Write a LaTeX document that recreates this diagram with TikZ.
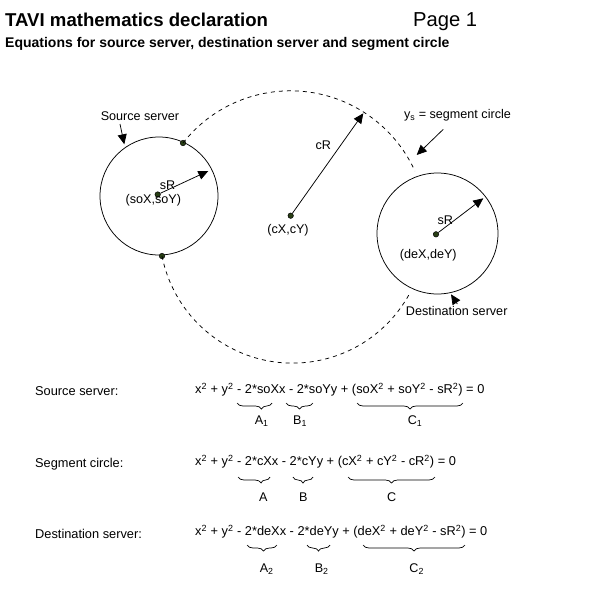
\documentclass[tikz,border=0pt]{standalone}
\usepackage{fontspec}
\setmainfont{Liberation Sans}
\usetikzlibrary{arrows.meta,decorations.pathreplacing}
\definecolor{dotgreen}{RGB}{40,62,20}
\begin{document}
\begin{tikzpicture}[x=1pt,y=-1pt,
  lbl/.style={font=\fontsize{12.6}{14}\selectfont, inner sep=0pt},
  eqn/.style={font=\fontsize{12.8}{14}\selectfont, inner sep=0pt, anchor=west},
  srv/.style={circle, draw, line width=0.75pt, inner sep=0pt},
  dotnode/.style={circle, draw, fill=dotgreen, line width=0.5pt, minimum size=5.5pt, inner sep=0pt},
  arr/.style={line width=0.75pt, -{Triangle[length=10pt,width=9pt]}},
  seg/.style={line width=0.75pt, dash pattern=on 4pt off 4pt},
  brc/.style={line width=0.7pt, decorate, decoration={brace, mirror, amplitude=6pt}},
]
\useasboundingbox[fill=white] (0,0) rectangle (594,598);

% titles
\node[anchor=base west, inner sep=0pt, font=\fontsize{18.6}{20}\selectfont\bfseries] (title) at (5,26) {TAVI mathematics declaration};
\node[anchor=base west, inner sep=0pt, font=\fontsize{20.2}{22}\selectfont] (page) at (413,26) {Page 1};
\node[anchor=base west, inner sep=0pt, font=\fontsize{14}{15}\selectfont\bfseries] (sub) at (5,47) {Equations for source server, destination server and segment circle};

% servers
\node[srv, minimum size=118pt] (src) at (159,196) {};
\node[srv, minimum size=121pt] (dst) at (437.5,233.5) {};

% segment circle (dashed arcs)
\node[dotnode] (sd1) at (183,143) {};
\node[dotnode] (sd2) at (162,256) {};
\draw[seg] (sd1.center) arc[start angle=141.8, end angle=24.4, radius=136.7pt];
\draw[seg] (sd2.center) arc[start angle=191.3, end angle=331.7, radius=133.2pt];

% centres
\node[dotnode] (soc) at (157.7,194.5) {};
\node[dotnode] (cc) at (290.7,215.7) {};
\node[dotnode] (dc) at (436,234.3) {};

\coordinate (sre) at (208.3,171);
\coordinate (cre) at (363.3,113.3);
\coordinate (dre) at (483.3,198.3);
\draw[arr] (soc) -- (sre);
\draw[arr] (cc) -- (cre);
\draw[arr] (dc) -- (dre);

\node[lbl] (srl) at (167.5,185) {sR};
\node[lbl] (sol) at (153.3,200.7) {(soX,soY)};
\node[lbl] (crl) at (323.3,145) {cR};
\node[lbl] (ccl) at (288,230) {(cX,cY)};
\node[lbl] (drl) at (445.3,220.7) {sR};
\node[lbl] (dcl) at (428.3,255.7) {(deX,deY)};

% callouts
\node[lbl] (srcl) at (140,115.7) {Source server};
\coordinate (srca) at (124.3,144.3);
\coordinate (srcs) at (120,124);
\draw[arr] (srcs) -- (srca);
\node[lbl] (segl) at (457.5,115) {y\textsubscript{s} = segment circle};
\coordinate (sega) at (416.7,155);
\coordinate (segs) at (443.3,129.3);
\draw[arr] (segs) -- (sega);
\node[lbl] (dstl) at (456.7,310.7) {Destination server};
\coordinate (dsta) at (451,294.3);
\coordinate (dsts) at (457.3,304);
\draw[arr] (dsts) -- (dsta);

% equations
\node[eqn] (l1) at (35,391) {Source server:};
\node[eqn] (l2) at (35,464) {Segment circle:};
\node[eqn] (l3) at (35,534) {Destination server:};

\node[eqn] (e1) at (195,390) {x\textsuperscript{2} + y\textsuperscript{2} - 2*soXx - 2*soYy + (soX\textsuperscript{2} + soY\textsuperscript{2} - sR\textsuperscript{2}) = 0};
\node[eqn] (e2) at (195,462) {x\textsuperscript{2} + y\textsuperscript{2} - 2*cXx - 2*cYy + (cX\textsuperscript{2} + cY\textsuperscript{2} - cR\textsuperscript{2}) = 0};
\node[eqn] (e3) at (195,532) {x\textsuperscript{2} + y\textsuperscript{2} - 2*deXx - 2*deYy + (deX\textsuperscript{2} + deY\textsuperscript{2} - sR\textsuperscript{2}) = 0};

% braces
\draw[brc, decoration={aspect=0.7}] (237,403) -- (272,403);
\draw[brc] (286,403) -- (313,403);
\draw[brc] (357,403) -- (463,403);
\node[lbl] (a1) at (261.7,421) {A\textsubscript{1}};
\node[lbl] (b1) at (300,421) {B\textsubscript{1}};
\node[lbl] (c1) at (415,421) {C\textsubscript{1}};

\draw[brc, decoration={aspect=0.72}] (238,477) -- (270,477);
\draw[brc] (293,477) -- (313,477);
\draw[brc] (348,477) -- (435,477);
\node[lbl] (a2) at (263.3,497) {A};
\node[lbl] (b2) at (303.3,497) {B};
\node[lbl] (c2) at (391.7,497) {C};

\draw[brc, decoration={aspect=0.55}] (247,545) -- (277,545);
\draw[brc] (307,545) -- (330,545);
\draw[brc] (363,545) -- (465,545);
\node[lbl] (a3) at (266.7,569) {A\textsubscript{2}};
\node[lbl] (b3) at (321.7,569) {B\textsubscript{2}};
\node[lbl] (c3) at (416.7,569) {C\textsubscript{2}};
\end{tikzpicture}
\end{document}
